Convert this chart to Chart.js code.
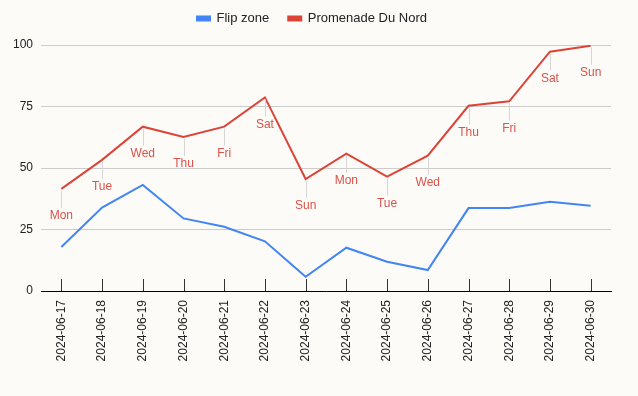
<!DOCTYPE html>
<html>
<head>
<meta charset="utf-8">
<script src="https://cdn.jsdelivr.net/npm/chart.js@4"></script>
<style>
  html, body { margin: 0; padding: 0; background: #fcfbf8; }
  #wrap { width: 638px; height: 396px; }
</style>
</head>
<body>
<div id="wrap"><canvas id="chart"></canvas></div>
<script>
const dates = [
  "2024-06-17", "2024-06-18", "2024-06-19", "2024-06-20", "2024-06-21",
  "2024-06-22", "2024-06-23", "2024-06-24", "2024-06-25", "2024-06-26",
  "2024-06-27", "2024-06-28", "2024-06-29", "2024-06-30",
];
const dayNames = ["Mon", "Tue", "Wed", "Thu", "Fri", "Sat", "Sun",
  "Mon", "Tue", "Wed", "Thu", "Fri", "Sat", "Sun"];
const flipZone = [17.9, 33.9, 43.1, 29.5, 26.1, 20.2, 5.8, 17.6, 11.9, 8.5, 33.7, 33.7, 36.3, 34.7];
const promenade = [41.5, 53.3, 66.8, 62.6, 66.8, 78.7, 45.5, 55.8, 46.5, 55.0, 75.3, 77.1, 97.3, 99.7];
const yTicks = [0, 25, 50, 75, 100];

const FONT = "'Liberation Sans', Arial, sans-serif";

// day-name labels hanging below the red line, with a thin stem
const annotations = {
  id: "annotations",
  afterDatasetsDraw(chart) {
    const ctx = chart.ctx;
    const meta = chart.getDatasetMeta(1);
    ctx.save();
    ctx.font = `12px ${FONT}`;
    ctx.textAlign = "center";
    ctx.textBaseline = "middle";
    meta.data.forEach((pt, i) => {
      ctx.strokeStyle = "#d6d6d6";
      ctx.lineWidth = 1;
      ctx.beginPath();
      ctx.moveTo(Math.round(pt.x) + 0.5, pt.y + 2);
      ctx.lineTo(Math.round(pt.x) + 0.5, pt.y + 19);
      ctx.stroke();
      ctx.fillStyle = "#d9534a";
      ctx.fillText(dayNames[i], pt.x, pt.y + 27);
    });
    ctx.restore();
  },
};

// short tick marks standing up from the x axis
const innerTicks = {
  id: "innerTicks",
  afterDraw(chart) {
    const ctx = chart.ctx;
    const x = chart.scales.x;
    const bottom = chart.chartArea.bottom;
    ctx.save();
    ctx.strokeStyle = "#333";
    ctx.lineWidth = 1;
    x.ticks.forEach((t, i) => {
      const px = Math.round(x.getPixelForTick(i)) + 0.5;
      ctx.beginPath();
      ctx.moveTo(px, bottom - 12);
      ctx.lineTo(px, bottom);
      ctx.stroke();
    });
    ctx.restore();
  },
};

// extra room between the legend and the plot
const legendGap = {
  id: "legendGap",
  beforeInit(chart) {
    const fit = chart.legend.fit;
    chart.legend.fit = function () {
      fit.call(this);
      this.height += 10;
    };
  },
};

const background = {
  id: "background",
  beforeDraw(chart) {
    const ctx = chart.ctx;
    ctx.save();
    ctx.fillStyle = "#fcfbf8";
    ctx.fillRect(0, 0, chart.width, chart.height);
    ctx.restore();
  },
};

new Chart(document.getElementById("chart"), {
  type: "line",
  data: {
    labels: dates,
    datasets: [
      { label: "Flip zone", data: flipZone, borderColor: "#4285f4", backgroundColor: "#4285f4", borderWidth: 2, pointRadius: 0, tension: 0 },
      { label: "Promenade Du Nord", data: promenade, borderColor: "#db4437", backgroundColor: "#db4437", borderWidth: 2, pointRadius: 0, tension: 0 },
    ],
  },
  options: {
    responsive: true,
    maintainAspectRatio: false,
    animation: false,
    layout: { padding: { left: 13, right: 27, top: -7, bottom: 0 } },
    plugins: {
      legend: {
        position: "top",
        labels: {
          font: { family: FONT, size: 13 },
          color: "#222",
          boxWidth: 13,
          boxHeight: 4,
          padding: 19,
        },
      },
      tooltip: { enabled: false },
    },
    scales: {
      x: {
        offset: true,
        afterFit(axis) { axis.height = 105; },
        grid: { color: "transparent", drawTicks: false },
        border: { display: true, color: "#000", width: 1 },
        ticks: {
          minRotation: 90,
          maxRotation: 90,
          padding: 9,
          autoSkip: false,
          color: "#222",
          font: { family: FONT, size: 12 },
        },
      },
      y: {
        min: 0,
        max: 100,
        afterFit(axis) { axis.width = 28; },
        afterBuildTicks(axis) { axis.ticks = yTicks.map(v => ({ value: v })); },
        grid: { color: "#cccccc", drawTicks: false },
        border: { display: false },
        ticks: {
          padding: 8,
          color: "#222",
          font: { family: FONT, size: 12 },
        },
      },
    },
  },
  plugins: [legendGap, background, annotations, innerTicks],
});
</script>
</body>
</html>
